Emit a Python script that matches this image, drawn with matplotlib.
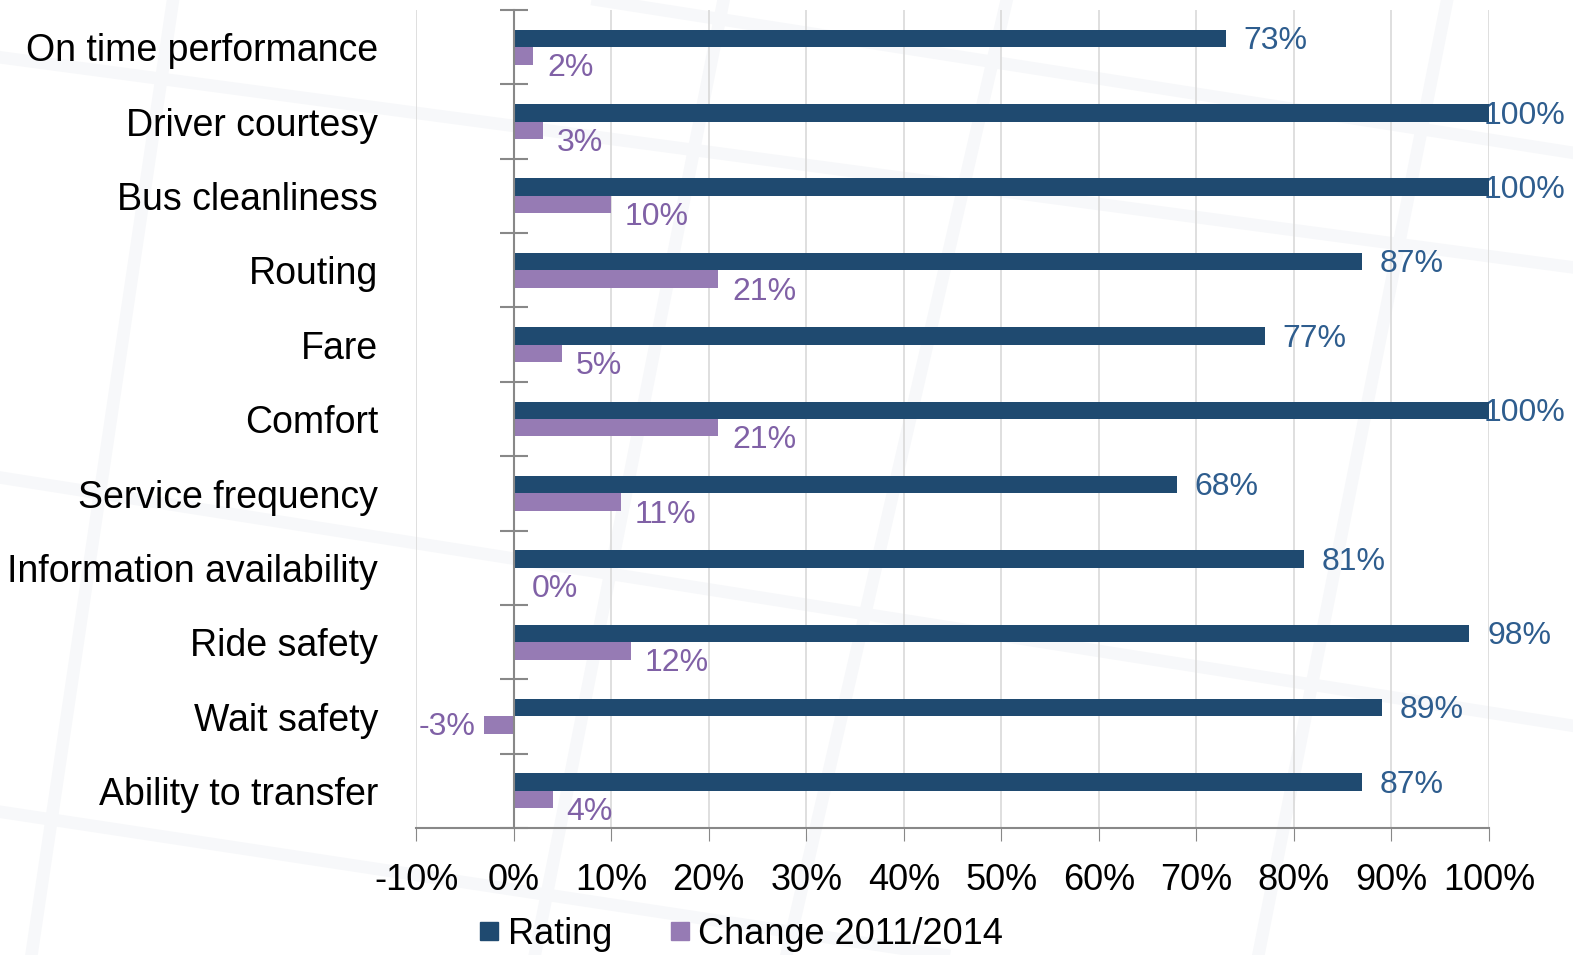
import numpy as np
import matplotlib.pyplot as plt
from matplotlib.lines import Line2D

plt.rcParams['font.family'] = ['Liberation Sans', 'DejaVu Sans']

categories = ['On time performance', 'Driver courtesy', 'Bus cleanliness', 'Routing',
              'Fare', 'Comfort', 'Service frequency', 'Information availability',
              'Ride safety', 'Wait safety', 'Ability to transfer']
rating = [73, 100, 100, 87, 77, 100, 68, 81, 98, 89, 87]
change = [2, 3, 10, 21, 5, 21, 11, 0, 12, -3, 4]
xticks = np.arange(-10, 101, 10)

navy = '#1F4A70'
navy_txt = '#2E5D8E'
purple = '#967BB4'
purple_txt = '#8061A6'

fig = plt.figure(figsize=(15.73, 9.55), dpi=100)
ax = fig.add_axes([0.2645, 0.133, 0.682, 0.8565])

# faint background pattern
for (x0, y0, x1, y1) in [(0.0, 0.94, 1.0, 0.72), (0.0, 0.50, 1.0, 0.24), (0.0, 0.15, 0.6, 0.0),
                         (0.11, 1.0, 0.02, 0.0), (0.46, 1.0, 0.34, 0.0), (0.64, 1.0, 0.50, 0.0),
                         (0.92, 1.0, 0.80, 0.0), (0.38, 1.0, 1.0, 0.84)]:
    fig.add_artist(Line2D([x0, x1], [y0, y1], transform=fig.transFigure,
                          color='#F7F8FA', lw=9, zorder=-5))
ax.patch.set_alpha(0)

y = np.arange(len(categories))
h = 0.235
ax.barh(y - h / 2, rating, height=h, color=navy, zorder=3)
ax.barh(y + h / 2, change, height=h, color=purple, zorder=3)

ax.set_xlim(-10, 100)
ax.set_ylim(len(categories) - 0.5, -0.5)
ax.set_xticks(xticks)
ax.set_xticklabels([f'{t}%' for t in xticks], fontsize=26)
ax.tick_params(axis='x', length=9, color='#888888', pad=16)
ax.grid(axis='x', color='#D9D9D9', lw=1.2, zorder=0)

for s in ['top', 'right']:
    ax.spines[s].set_visible(False)
ax.spines['bottom'].set_color('#888888')
ax.spines['bottom'].set_linewidth(1.5)
ax.spines['left'].set_position(('data', 0))
ax.spines['left'].set_color('#888888')
ax.spines['left'].set_linewidth(1.5)
ax.spines['left'].set_zorder(4)
ax.set_yticks(y)
ax.set_yticklabels([])
ax.tick_params(axis='y', which='major', length=0)
ax.set_yticks(np.arange(len(categories) + 1) - 0.5, minor=True)
ax.tick_params(axis='y', which='minor', direction='inout', length=20, width=1.5, color='#888888')

for i, c in enumerate(categories):
    ax.annotate(c, (0, i), xycoords=ax.get_yaxis_transform(), xytext=(-27.4, -3),
                textcoords='offset points', ha='right', va='center', fontsize=27, color='black')

for i, v in enumerate(rating):
    if v >= 99:
        ax.annotate(f'{v}%', (v, i - h / 2), xytext=(-4, -2), textcoords='offset points',
                    ha='left', va='center', fontsize=23, color=navy_txt, zorder=2)
    else:
        ax.annotate(f'{v}%', (v, i - h / 2), xytext=(13, -2), textcoords='offset points',
                    ha='left', va='center', fontsize=23, color=navy_txt, zorder=5)

for i, v in enumerate(change):
    if v < 0:
        ax.annotate(f'{v}%', (v, i + h / 2), xytext=(-6, -1), textcoords='offset points',
                    ha='right', va='center', fontsize=23, color=purple_txt, zorder=5)
    else:
        ax.annotate(f'{v}%', (v, i + h / 2), xytext=(10 if v > 0 else 13, -9),
                    textcoords='offset points', ha='left', va='center', fontsize=23,
                    color=purple_txt, zorder=5)

handles = [Line2D([], [], marker='s', ls='', color=navy, markersize=13, label='Rating'),
           Line2D([], [], marker='s', ls='', color=purple, markersize=13, label='Change 2011/2014')]
fig.legend(handles=handles, loc='center', bbox_to_anchor=(741 / 1573, 1 - 934 / 955), ncol=2,
           frameon=False, fontsize=26, handlelength=0.6, handletextpad=0.2, columnspacing=1.6)

fig.savefig('out.png', dpi=100)
